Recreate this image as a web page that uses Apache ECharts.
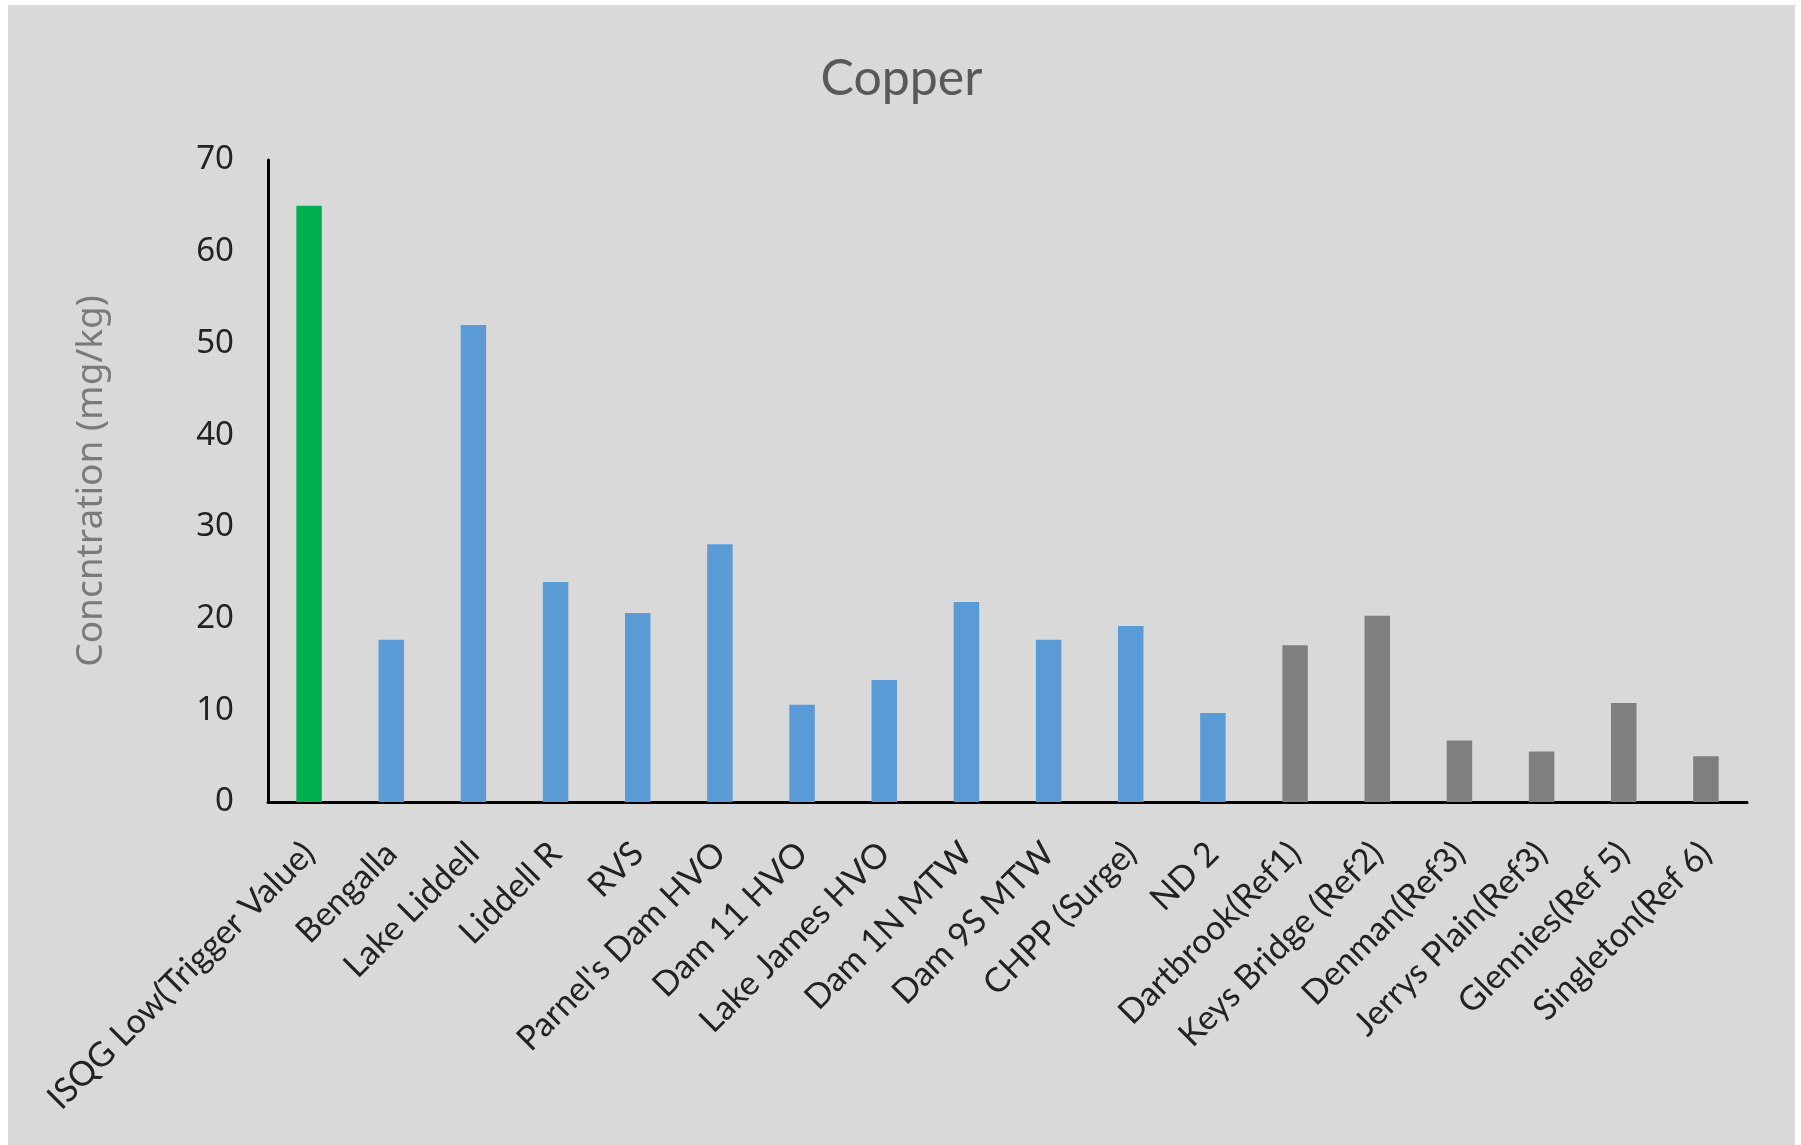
<!DOCTYPE html>
<html>
<head>
<meta charset="utf-8">
<title>Copper</title>
<script src="https://cdn.jsdelivr.net/npm/echarts@6/dist/echarts.min.js"></script>
<style>
  html, body { margin: 0; padding: 0; background: #ffffff; }
  #chart { position: absolute; left: 8px; top: 5px; width: 1787px; height: 1140px; background: #d9d9d9; }
</style>
</head>
<body>
<div id="chart"></div>
<script>
// Sampling sites along the x axis
const categories = [
  'ISQG Low(Trigger Value)', 'Bengalla', 'Lake Liddell', 'Liddell R', 'RVS',
  "Parnel's Dam HVO", 'Dam 11 HVO', 'Lake James HVO', 'Dam 1N MTW', 'Dam 9S MTW',
  'CHPP (Surge)', 'ND 2', 'Dartbrook(Ref1)', 'Keys Bridge (Ref2)', 'Denman(Ref3)',
  'Jerrys Plain(Ref3)', 'Glennies(Ref 5)', 'Singleton(Ref 6)'
];

// Copper concentration (mg/kg) at each site
const copperValues = [
  65, 17.7, 52, 24.0, 20.6,
  28.1, 10.6, 13.3, 21.8, 17.7,
  19.2, 9.7, 17.1, 20.3, 6.7,
  5.5, 10.8, 5.0
];

// Site group: guideline trigger value, mine sites, reference sites
const siteGroups = [
  'trigger', 'mine', 'mine', 'mine', 'mine',
  'mine', 'mine', 'mine', 'mine', 'mine',
  'mine', 'mine', 'reference', 'reference', 'reference',
  'reference', 'reference', 'reference'
];

// Y axis ticks
const yTicks = { min: 0, max: 70, interval: 10 };

const groupColors = { trigger: '#00b050', mine: '#5b9bd5', reference: '#7f7f7f' };

const chart = echarts.init(document.getElementById('chart'), null, { renderer: 'canvas' });

chart.setOption({
  backgroundColor: '#d9d9d9',
  animation: false,
  title: {
    text: 'Copper',
    left: 'center',
    top: 44,
    textStyle: { fontFamily: 'Lato', fontSize: 50, fontWeight: 'normal', color: '#595959' }
  },
  grid: { left: 260, right: 48, top: 155, bottom: 343, containLabel: false },
  xAxis: {
    type: 'category',
    data: categories,
    axisLine: { show: true, lineStyle: { color: '#000000', width: 3 } },
    axisTick: { show: false },
    axisLabel: {
      interval: 0,
      rotate: 45,
      margin: 46,
      fontFamily: 'Lato',
      fontSize: 34,
      color: '#222222'
    },
    splitLine: { show: false }
  },
  yAxis: {
    type: 'value',
    min: yTicks.min,
    max: yTicks.max,
    interval: yTicks.interval,
    name: 'Concntration (mg/kg)',
    nameLocation: 'middle',
    nameRotate: 90,
    nameGap: 158,
    nameTextStyle: { fontFamily: 'Noto Sans', fontSize: 37, color: '#7a7a7a' },
    axisLine: { show: true, lineStyle: { color: '#000000', width: 3 } },
    axisTick: { show: false },
    axisLabel: { margin: 34, fontFamily: 'Noto Sans', fontSize: 33, color: '#222222' },
    splitLine: { show: false }
  },
  series: [{
    type: 'bar',
    barWidth: '31%',
    data: copperValues.map((v, i) => ({
      value: v,
      itemStyle: { color: groupColors[siteGroups[i]] }
    }))
  }]
});
</script>
</body>
</html>
